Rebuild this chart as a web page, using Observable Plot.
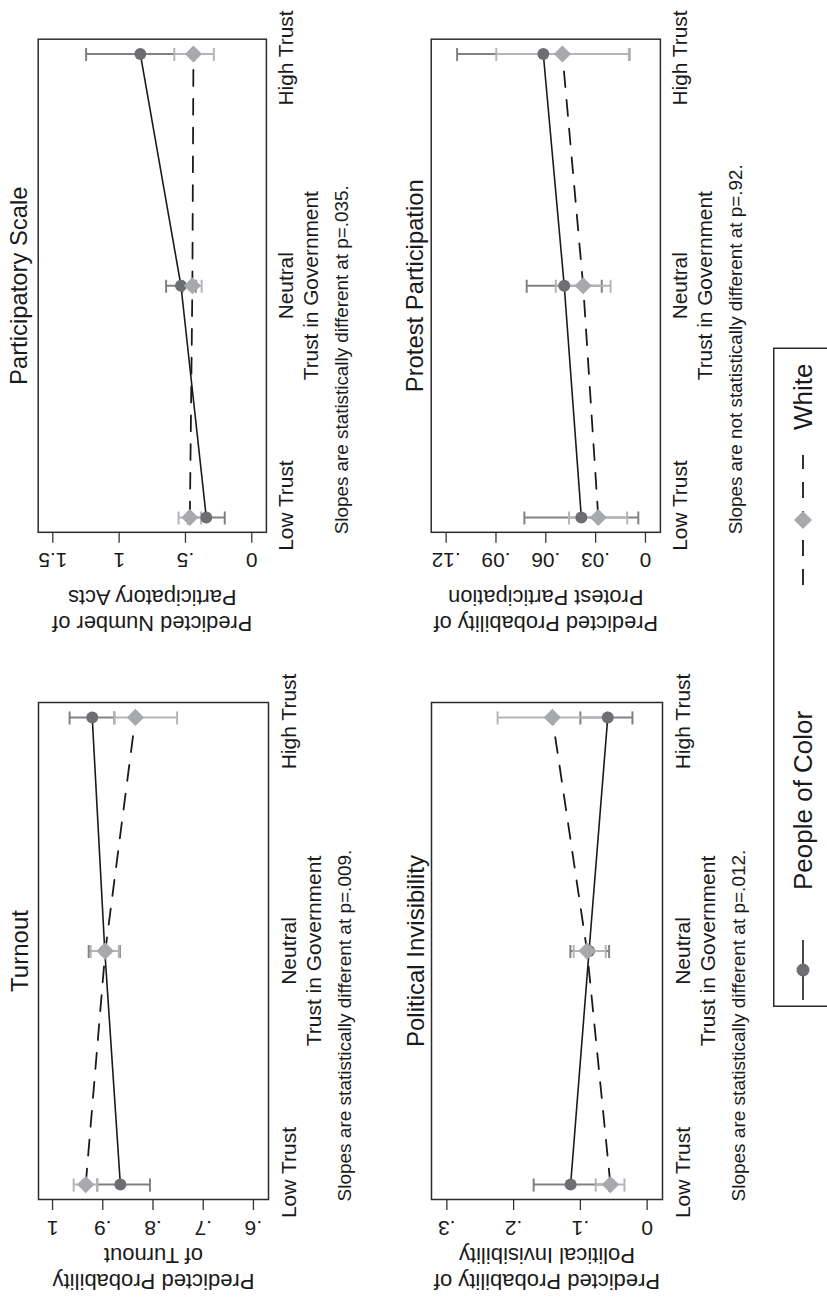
<!DOCTYPE html>
<html><head><meta charset="utf-8">
<script src="https://cdn.jsdelivr.net/npm/d3@7"></script>
<script src="https://cdn.jsdelivr.net/npm/@observablehq/plot@0.6"></script>
<style>
html,body{margin:0;padding:0;background:#fff;overflow:hidden;}
#page{position:relative;width:827px;height:1303px;overflow:hidden;background:#fff;}
#fig{position:absolute;left:0;top:0;width:1303px;height:827px;transform-origin:0 0;transform:translate(0px,1303px) rotate(-90deg);font-family:"Liberation Sans",Arial,Helvetica,sans-serif;color:#1a1a1a;}
.panel{position:absolute;}
.panel svg{overflow:visible;}
</style></head>
<body><div id="page"><div id="fig"></div></div>
<script>
// ---- data ----
const trustLevels = ["Low Trust", "Neutral", "High Trust"];
const groups = ["People of Color", "White"];
const xTitle = "Trust in Government";

// Turnout
const turnoutTicks = [0.6, 0.7, 0.8, 0.9, 1];
const turnoutTickLabels = [".6", ".7", ".8", ".9", "1"];
const turnoutPoC = [0.865, 0.896, 0.921];
const turnoutPoCLo = [0.806, 0.866, 0.877];
const turnoutPoCHi = [0.911, 0.928, 0.966];
const turnoutWhite = [0.934, 0.895, 0.835];
const turnoutWhiteLo = [0.911, 0.868, 0.752];
const turnoutWhiteHi = [0.958, 0.924, 0.877];

// Participatory scale
const partTicks = [0, 0.5, 1, 1.5];
const partTickLabels = ["0", ".5", "1", "1.5"];
const partPoC = [0.343, 0.534, 0.840];
const partPoCLo = [0.204, 0.422, 0.431];
const partPoCHi = [0.482, 0.646, 1.249];
const partWhite = [0.467, 0.448, 0.440];
const partWhiteLo = [0.382, 0.378, 0.286];
const partWhiteHi = [0.552, 0.518, 0.584];

// Political invisibility
const invisTicks = [0, 0.1, 0.2, 0.3];
const invisTickLabels = ["0", ".1", ".2", ".3"];
const invisPoC = [0.1146, 0.087, 0.059];
const invisPoCLo = [0.057, 0.057, 0.022];
const invisPoCHi = [0.170, 0.115, 0.100];
const invisWhite = [0.055, 0.090, 0.142];
const invisWhiteLo = [0.034, 0.062, 0.060];
const invisWhiteHi = [0.077, 0.110, 0.224];

// Protest participation
const protestTicks = [0, 0.03, 0.06, 0.09, 0.12];
const protestTickLabels = ["0", ".03", ".06", ".09", ".12"];
const protestPoC = [0.0386, 0.0489, 0.0615];
const protestPoCLo = [0.0043, 0.0263, 0.0096];
const protestPoCHi = [0.0729, 0.0715, 0.1134];
const protestWhite = [0.0284, 0.0375, 0.050];
const protestWhiteLo = [0.011, 0.021, 0.010];
const protestWhiteHi = [0.046, 0.054, 0.0898];

// ---- style ----
const FONT = '"Liberation Sans", Arial, Helvetica, sans-serif';
const INK = "#1a1a1a";
const pocMarker = "#6d6e71", pocBar = "#808184";
const whiteMarker = "#a7a9ac", whiteBar = "#b4b5b8";
const DASH = "16,13";
const xLabelNudge = [12, 0, -4]; // pixel nudges of the category labels

function rows(est, lo, hi, group) {
  return est.map((v, i) => ({trust: i + 1, level: trustLevels[i], group, est: v, lo: lo[i], hi: hi[i]}));
}

function panel({title, yLabel, ticks, tickLabels, domain, poc, white, note, left, top, mb, titleDy, yLabDx}) {
  const labelOf = new Map(ticks.map((t, i) => [t, tickLabels[i]]));
  const capW = 0.028;
  const cats = trustLevels.map((t, i) => ({trust: i + 1, label: t, nudge: xLabelNudge[i]}));
  const p = Plot.plot({
    width: 640, height: 360,
    marginLeft: 103, marginRight: 40, marginTop: 38, marginBottom: mb,
    x: {type: "linear", domain: [0.936, 3.064], axis: null},
    y: {type: "linear", domain, axis: null},
    style: {fontFamily: FONT, background: "transparent", color: INK, overflow: "visible"},
    marks: [
      // y ticks (marks only) and rotated labels
      Plot.axisY({ticks, tickSize: 10, tickFormat: () => "", label: null, stroke: "#333", strokeWidth: 1.3}),
      Plot.text(ticks, {y: d => d, text: d => labelOf.get(d), frameAnchor: "left", dx: -28, rotate: -90,
        textAnchor: "middle", lineAnchor: "middle", fontSize: 21, fill: INK}),
      // x category labels
      ...cats.map(c => Plot.text([c], {x: "trust", text: "label", frameAnchor: "bottom", dx: c.nudge, dy: 27,
        lineAnchor: "bottom", fontSize: 21, fill: INK})),
      // error bars
      Plot.ruleX(poc, {x: "trust", y1: "lo", y2: "hi", stroke: pocBar, strokeWidth: 2}),
      Plot.ruleY(poc, {y: "lo", x1: d => d.trust - capW, x2: d => d.trust + capW, stroke: pocBar, strokeWidth: 2}),
      Plot.ruleY(poc, {y: "hi", x1: d => d.trust - capW, x2: d => d.trust + capW, stroke: pocBar, strokeWidth: 2}),
      Plot.ruleX(white, {x: "trust", y1: "lo", y2: "hi", stroke: whiteBar, strokeWidth: 2}),
      Plot.ruleY(white, {y: "lo", x1: d => d.trust - capW, x2: d => d.trust + capW, stroke: whiteBar, strokeWidth: 2}),
      Plot.ruleY(white, {y: "hi", x1: d => d.trust - capW, x2: d => d.trust + capW, stroke: whiteBar, strokeWidth: 2}),
      // connecting lines
      Plot.line(poc, {x: "trust", y: "est", stroke: INK, strokeWidth: 1.6}),
      Plot.line(white, {x: "trust", y: "est", stroke: INK, strokeWidth: 1.8, strokeDasharray: DASH}),
      // markers
      Plot.dot(poc, {x: "trust", y: "est", r: 6, fill: pocMarker, stroke: null}),
      Plot.dot(white, {x: "trust", y: "est", r: 7.8, symbol: "diamond2", fill: whiteMarker, stroke: null}),
      // frame
      Plot.frame({stroke: "#2b2b2b", strokeWidth: 1.5}),
      // texts
      Plot.text([title], {text: d => d, frameAnchor: "top", dy: titleDy, lineAnchor: "bottom", fontSize: 24, fill: INK}),
      Plot.text([yLabel], {text: d => d, frameAnchor: "left", dx: yLabDx, rotate: -90, lineAnchor: "middle",
        textAnchor: "middle", fontSize: 22, lineHeight: 1.22, fill: INK}),
      Plot.text([xTitle], {text: d => d, frameAnchor: "bottom", dy: 52, lineAnchor: "bottom", fontSize: 21, fill: INK}),
      Plot.text([note], {text: d => d, frameAnchor: "bottom-left", dx: -2, dy: 82, textAnchor: "start",
        lineAnchor: "bottom", fontSize: 19, fill: INK})
    ]
  });
  const div = document.createElement("div");
  div.className = "panel";
  div.style.left = left + "px";
  div.style.top = top + "px";
  div.appendChild(p);
  document.getElementById("fig").appendChild(div);
}

panel({
  title: "Turnout", yLabel: "Predicted Probability\nof Turnout",
  ticks: turnoutTicks, tickLabels: turnoutTickLabels, domain: [0.57, 1.028],
  poc: rows(turnoutPoC, turnoutPoCLo, turnoutPoCHi, groups[0]),
  white: rows(turnoutWhite, turnoutWhiteLo, turnoutWhiteHi, groups[1]),
  note: "Slopes are statistically different at p=.009.",
  left: 0, top: 0, mb: 92, titleDy: -11, yLabDx: -70
});
panel({
  title: "Participatory Scale", yLabel: "Predicted Number of\nParticipatory Acts",
  ticks: partTicks, tickLabels: partTickLabels, domain: [-0.11, 1.61],
  poc: rows(partPoC, partPoCLo, partPoCHi, groups[0]),
  white: rows(partWhite, partWhiteLo, partWhiteHi, groups[1]),
  note: "Slopes are statistically different at p=.035.",
  left: 668, top: 0, mb: 92, titleDy: -11, yLabDx: -80
});
panel({
  title: "Political Invisibility", yLabel: "Predicted Probability of\nPolitical Invisibility",
  ticks: invisTicks, tickLabels: invisTickLabels, domain: [-0.023, 0.323],
  poc: rows(invisPoC, invisPoCLo, invisPoCHi, groups[0]),
  white: rows(invisWhite, invisWhiteLo, invisWhiteHi, groups[1]),
  note: "Slopes are statistically different at p=.012.",
  left: 0, top: 393, mb: 91, titleDy: -8, yLabDx: -70
});
panel({
  title: "Protest Participation", yLabel: "Predicted Probability of\nProtest Participation",
  ticks: protestTicks, tickLabels: protestTickLabels, domain: [-0.009, 0.129],
  poc: rows(protestPoC, protestPoCLo, protestPoCHi, groups[0]),
  white: rows(protestWhite, protestWhiteLo, protestWhiteHi, groups[1]),
  note: "Slopes are not statistically different at p=.92.",
  left: 668, top: 393, mb: 91, titleDy: -8, yLabDx: -80
});

// ---- legend ----
(function legend() {
  const ns = "http://www.w3.org/2000/svg";
  const svg = document.createElementNS(ns, "svg");
  svg.setAttribute("width", 660); svg.setAttribute("height", 120);
  svg.style.position = "absolute"; svg.style.left = "296px"; svg.style.top = "773px";
  svg.style.fontFamily = FONT;
  const el = (tag, attrs, txt) => { const e = document.createElementNS(ns, tag);
    for (const k in attrs) e.setAttribute(k, attrs[k]); if (txt) e.textContent = txt; svg.appendChild(e); return e; };
  el("rect", {x: 0.75, y: 0.75, width: 658, height: 118, fill: "none", stroke: "#2b2b2b", "stroke-width": 1.5});
  const cy = 30;
  // People of Color
  el("line", {x1: 7, x2: 67, y1: cy, y2: cy, stroke: INK, "stroke-width": 1.6});
  el("circle", {cx: 37, cy, r: 6.5, fill: pocMarker});
  el("text", {x: 117, y: cy + 9, "font-size": 26, fill: INK}, groups[0]);
  // White
  el("line", {x1: 422, x2: 552, y1: cy, y2: cy, stroke: INK, "stroke-width": 1.8, "stroke-dasharray": DASH});
  const d = 9;
  el("path", {d: `M487,${cy - d}L${487 + d},${cy}L487,${cy + d}L${487 - d},${cy}Z`, fill: whiteMarker});
  el("text", {x: 577, y: cy + 9, "font-size": 26, fill: INK}, groups[1]);
  document.getElementById("fig").appendChild(svg);
})();
</script></body></html>
